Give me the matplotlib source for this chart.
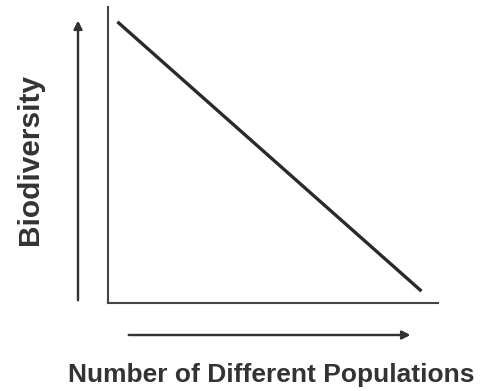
import matplotlib
matplotlib.use("Agg")
import matplotlib.pyplot as plt

# relationship sketch: more populations -> less biodiversity
populations = [0.3, 9.5]
biodiversity = [9.5, 0.4]

x_label = "Number of Different Populations"
y_label = "Biodiversity"

W, H = 483, 391
fig = plt.figure(figsize=(W / 100, H / 100), dpi=100)
plt.rcParams['font.family'] = ['Liberation Sans', 'DejaVu Sans']

# axes placed to match the L-shaped frame
ax = fig.add_axes([107.5 / W, (H - 303) / H, (438 - 107.5) / W, (303 - 7) / H])
ax.plot(populations, biodiversity, color="#2a2a2a", linewidth=2.4, solid_capstyle="butt")
ax.set_xlim(0, 10)
ax.set_ylim(0, 10)
for side in ["top", "right"]:
    ax.spines[side].set_visible(False)
for side in ["left", "bottom"]:
    ax.spines[side].set_color("#444444")
    ax.spines[side].set_linewidth(1.5)
ax.set_xticks([])
ax.set_yticks([])

# direction arrows beside the axes
arrow_style = dict(arrowstyle="-|>", color="#333333", lw=1.6, mutation_scale=12)
fig.add_artist(plt.annotate("", xy=(78 / W, 1 - 18 / H), xytext=(78 / W, 1 - 303 / H),
                            xycoords="figure fraction", textcoords="figure fraction",
                            arrowprops=arrow_style))
fig.add_artist(plt.annotate("", xy=(413 / W, 1 - 335 / H), xytext=(126 / W, 1 - 335 / H),
                            xycoords="figure fraction", textcoords="figure fraction",
                            arrowprops=arrow_style))

fig.text(271 / W, 1 - 375 / H, x_label, ha="center", va="center",
         fontsize=19, fontweight="bold", color="#333333")
fig.text(30 / W, 1 - 159 / H, y_label, ha="center", va="center", rotation=90,
         fontsize=21.5, fontweight="bold", color="#333333")

fig.savefig("out.png", dpi=100)
